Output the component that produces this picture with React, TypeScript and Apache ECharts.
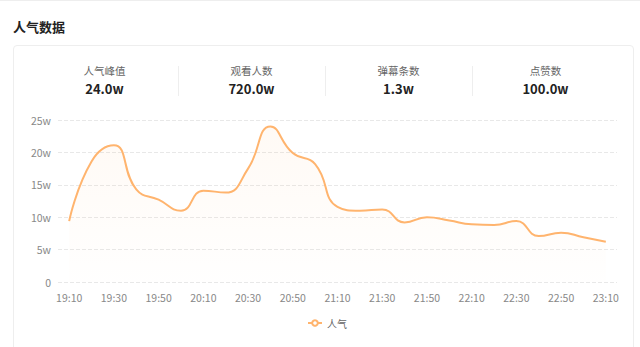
import React, { useEffect, useRef } from "react";
import * as echarts from "echarts";

const title = "人气数据";
const statLabels = ["人气峰值", "观看人数", "弹幕条数", "点赞数"];
const statValues = ["24.0w", "720.0w", "1.3w", "100.0w"];

const times = [
  "19:10", "19:20", "19:30", "19:40", "19:50",
  "20:00", "20:10", "20:20", "20:30", "20:40", "20:50",
  "21:00", "21:10", "21:20", "21:30", "21:40", "21:50",
  "22:00", "22:10", "22:20", "22:30", "22:40", "22:50",
  "23:00", "23:10",
];

// 人气 in units of w (万)
const popularity = [
  9.4, 18.6, 21.1, 14.3, 12.7,
  11.0, 14.1, 13.8, 17.5, 24.0, 19.9,
  18.2, 11.6, 11.0, 11.2, 9.2, 10.0,
  9.5, 8.9, 8.8, 9.4, 7.1, 7.6,
  6.9, 6.2,
];

const seriesName = "人气";
const FONT = '"Noto Sans CJK SC", "Noto Sans", sans-serif';
const LINE_COLOR = "#FFB46E";

export default function App() {
  const ref = useRef<HTMLDivElement>(null);

  useEffect(() => {
    if (!ref.current) return;
    const chart = echarts.init(ref.current, undefined, { renderer: "svg" });
    chart.setOption({
      animation: false,
      textStyle: { fontFamily: FONT },
      grid: { left: 58, right: 23, top: 120, bottom: 65 },
      legend: {
        bottom: 14,
        left: 302,
        itemWidth: 14,
        itemHeight: 7,
        itemGap: 10,
        textStyle: { color: "#666", fontSize: 10, fontFamily: FONT },
        data: [seriesName],
      },
      xAxis: {
        type: "category",
        data: times,
        boundaryGap: true,
        axisLine: { show: false },
        axisTick: { show: false },
        axisLabel: {
          color: "#888",
          fontSize: 10.5,
          margin: 10,
          interval: 1,
        },
      },
      yAxis: {
        type: "value",
        min: 0,
        max: 25,
        interval: 5,
        axisLine: { show: false },
        axisTick: { show: false },
        axisLabel: {
          color: "#888",
          fontSize: 10.5,
          margin: 7,
          formatter: (v: number) => (v === 0 ? "0" : v + "w"),
        },
        splitLine: { lineStyle: { color: "#e8e8e8", type: "dashed" } },
      },
      series: [
        {
          name: seriesName,
          type: "line",
          data: popularity,
          smooth: true,
          symbol: "emptyCircle",
          showSymbol: false,
          lineStyle: { color: LINE_COLOR, width: 2 },
          itemStyle: { color: LINE_COLOR },
          areaStyle: {
            color: new echarts.graphic.LinearGradient(0, 0, 0, 1, [
              { offset: 0, color: "rgba(255,180,110,0.10)" },
              { offset: 1, color: "rgba(255,180,110,0.01)" },
            ]),
          },
        },
      ],
    });
    return () => chart.dispose();
  }, []);

  const colW = 147;
  return (
    <div
      style={{
        position: "absolute",
        left: 0,
        top: 0,
        width: 640,
        height: 347,
        overflow: "hidden",
        background: "#fff",
        fontFamily: FONT,
      }}
    >
      <div style={{ position: "absolute", left: 0, top: 0, width: 640, height: 1, background: "#eee" }} />
      <div
        style={{
          position: "absolute",
          left: 13,
          top: 17,
          fontSize: 13,
          fontWeight: 700,
          color: "#222",
          lineHeight: "20px",
        }}
      >
        {title}
      </div>
      <div
        style={{
          position: "absolute",
          left: 13,
          top: 45,
          width: 621,
          height: 320,
          border: "1px solid #eeeeee",
          borderRadius: 4,
          boxSizing: "border-box",
        }}
      />
      {statLabels.map((lab, i) => (
        <div
          key={lab}
          style={{
            position: "absolute",
            left: 31 + i * colW,
            top: 62,
            width: colW,
            textAlign: "center",
          }}
        >
          {i > 0 && (
            <div
              style={{
                position: "absolute",
                left: 0,
                top: 4,
                width: 1,
                height: 30,
                background: "#eeeeee",
              }}
            />
          )}
          <div style={{ fontSize: 10.5, color: "#666", lineHeight: "18px" }}>{lab}</div>
          <div style={{ fontSize: 13, fontWeight: 700, color: "#222", lineHeight: "18px" }}>
            {statValues[i]}
          </div>
        </div>
      ))}
      <div ref={ref} style={{ position: "absolute", left: 0, top: 0, width: 640, height: 347 }} />
    </div>
  );
}
